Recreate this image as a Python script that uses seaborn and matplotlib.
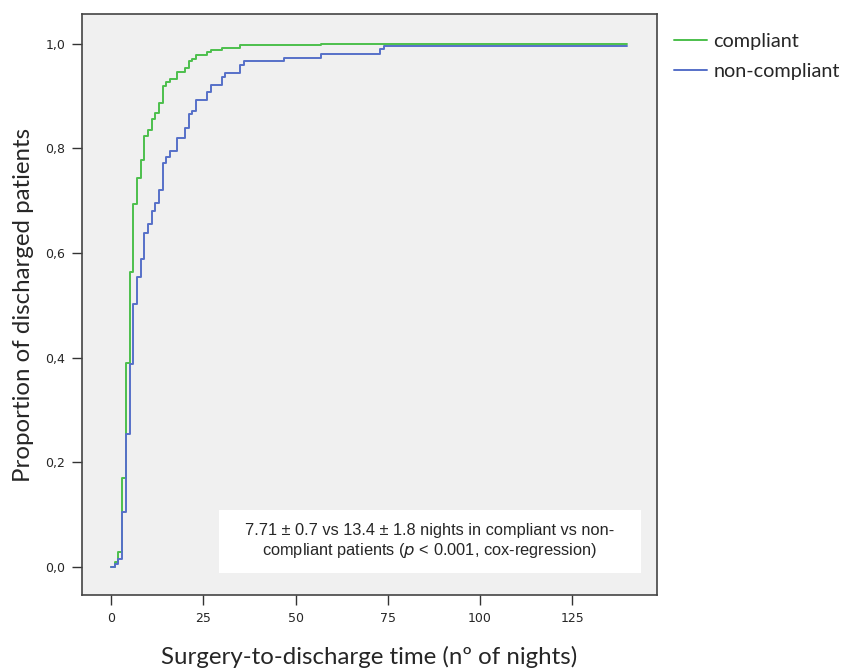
import numpy as np
import pandas as pd
import seaborn as sns
import matplotlib.pyplot as plt
from matplotlib.patches import Rectangle

# cumulative proportion of discharged patients
nights_comp = [0, 1, 2, 3, 4, 5, 6, 7, 8, 9, 10, 11, 12, 13, 14, 15, 16, 18,
               20, 21, 22, 23, 26, 27, 30, 35, 57, 140]
prop_comp = [0.0, 0.009, 0.028, 0.17, 0.39, 0.563, 0.693, 0.744, 0.777, 0.823,
             0.835, 0.855, 0.868, 0.887, 0.918, 0.927, 0.933, 0.946, 0.953,
             0.966, 0.971, 0.978, 0.984, 0.987, 0.991, 0.997, 0.999, 0.999]

nights_noncomp = [0, 1, 2, 3, 4, 5, 6, 7, 8, 9, 10, 11, 12, 13, 14, 15, 16, 18,
                  20, 21, 22, 23, 26, 27, 30, 31, 35, 36, 47, 57, 73, 74, 140]
prop_noncomp = [0.0, 0.006, 0.015, 0.105, 0.254, 0.387, 0.502, 0.554, 0.589,
                0.639, 0.655, 0.680, 0.696, 0.721, 0.772, 0.784, 0.794, 0.820,
                0.839, 0.865, 0.871, 0.892, 0.908, 0.921, 0.936, 0.943, 0.959,
                0.966, 0.973, 0.980, 0.989, 0.995, 0.995]

groups = ['compliant', 'non-compliant']
colors = {'compliant': '#4cbf4c', 'non-compliant': '#5670c8'}

df = pd.concat([
    pd.DataFrame({'nights': nights_comp, 'prop': prop_comp, 'group': groups[0]}),
    pd.DataFrame({'nights': nights_noncomp, 'prop': prop_noncomp, 'group': groups[1]}),
])

sns.set_style('white')
plt.rcParams['font.family'] = ['DejaVu Sans']

fig = plt.figure(figsize=(8.45, 6.71), dpi=100)
ax = fig.add_axes([0.097, 0.1133, 0.6805, 0.8659])
ax.set_facecolor('#f0f0f0')

sns.lineplot(data=df, x='nights', y='prop', hue='group', hue_order=groups,
             palette=colors, estimator=None, drawstyle='steps-post',
             linewidth=1.4, ax=ax)

ax.set_xlim(-7.9, 148)
ax.set_ylim(-0.0535, 1.0566)
ax.set_xticks([0, 25, 50, 75, 100, 125])
ax.set_yticks([0, 0.2, 0.4, 0.6, 0.8, 1.0])
ax.set_yticklabels(['0,0', '0,2', '0,4', '0,6', '0,8', '1,0'])
ax.tick_params(axis='both', direction='out', length=7, width=1, labelsize=9,
               color='#333333', bottom=True, left=True, pad=5)
for sp in ax.spines.values():
    sp.set_color('#444444')
    sp.set_linewidth(1.2)

ax.set_xlabel('Surgery-to-discharge time (nº of nights)', family='Lato',
              fontsize=17.3, labelpad=15)
ax.set_ylabel('Proportion of discharged patients', family='Lato',
              fontsize=17.3, labelpad=8)

# white note box
ax.add_patch(Rectangle((0.238, 0.038), 0.734, 0.108, transform=ax.transAxes,
                       facecolor='white', edgecolor='none', zorder=3))
ax.text(0.605, 0.092,
        '7.71 ± 0.7 vs 13.4 ± 1.8 nights in compliant vs non-\n'
        'compliant patients ($\\it{p}$ < 0.001, cox-regression)',
        transform=ax.transAxes, ha='center', va='center', fontsize=11.8,
        family='Liberation Sans', linespacing=1.25, zorder=4)

leg = ax.legend(loc='upper left', bbox_to_anchor=(0.998, 0.998), frameon=False,
                prop={'family': 'Lato', 'size': 14.3}, handlelength=1.7,
                handletextpad=0.3, labelspacing=0.65)

fig.savefig('out.png', dpi=100)
